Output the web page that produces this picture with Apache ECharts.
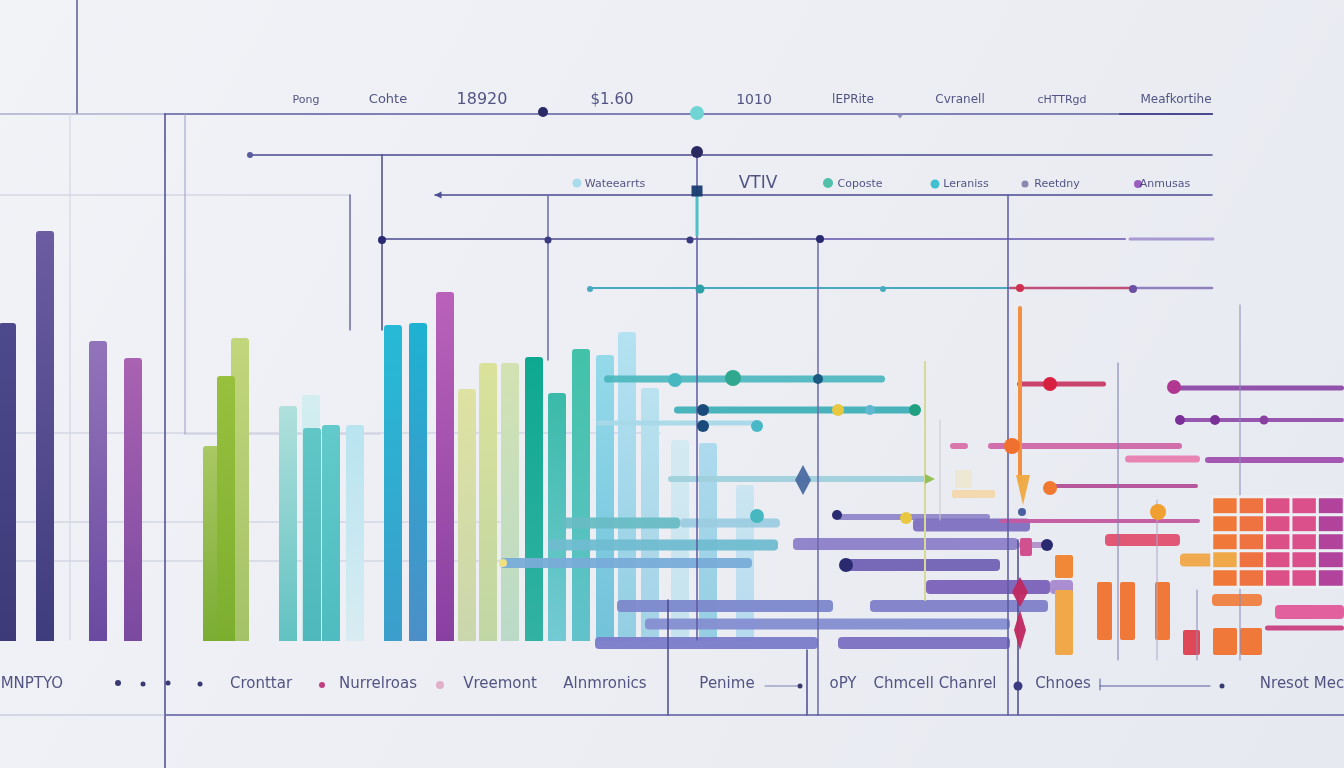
<!DOCTYPE html>
<html><head><meta charset="utf-8">
<script src="https://cdn.jsdelivr.net/npm/echarts@6/dist/echarts.min.js"></script>
<style>html,body{margin:0;padding:0;width:1344px;height:768px;overflow:hidden;background:#eceff4}#c{width:1344px;height:768px}</style>
</head><body><div id="c"></div><script>
// ---------- DATA ----------
// vertical bars: centre position and height above the baseline
const barX = [7,45,98,133,212,240,226,288,311,312,331,355,393,418,445,467,488,510,534,557,581,605,627,650,680,708,745];
const barH = [318,410,300,283,195,303,265,235,246,213,216,216,316,318,349,252,278,278,284,248,292,286,309,253,201,198,156];
// thin segments [x0,y0,x1,y1]
const segBack = [[0,433,660,433],[0,522,500,522],[0,561,500,561],[0,195,350,195],[185,434,380,434]];
const segs = [
 [0,114,165,114],[165,114,1212,114],[1120,114,1212,114],
 [250,155,1212,155],[435,195,1212,195],
 [382,239,820,239],[820,239,1125,239],[1130,239,1213,239],
 [590,288,1010,288],[1010,288,1135,288],[1135,288,1212,288],
 [77,0,77,113],[165,114,165,768],[70,114,70,640],[185,114,185,434],
 [382,155,382,330],[350,195,350,330],[548,195,548,360],[697,150,697,640],
 [818,239,818,715],[1008,195,1008,715],[1018,540,1018,715],[668,600,668,715],
 [807,650,807,715],[1240,305,1240,660],[1118,363,1118,660],[925,362,925,600],
 [940,420,940,520],[1197,590,1197,660],[1157,500,1157,660],
 [0,715,165,715],[165,715,1344,715],[1100,686,1210,686],[1100,679,1100,690],[765,686,800,686],
 [1020,308,1020,480],[697,190,697,235]
];
// horizontal bars [x0,x1,y]
const hBars = [
 [604,885,379],[674,918,410],[596,760,423],[668,930,479],[562,680,523],[680,780,523],
 [548,778,545],[500,752,563],[836,990,517],[913,1030,525],[793,1018,544],[1018,1045,545],
 [843,1000,565],[926,1050,587],[1050,1073,587],[617,833,606],[870,1048,606],[645,1010,624],
 [595,818,643],[838,1010,643],
 [1017,1106,384],[1175,1344,388],[1180,1344,420],[950,968,446],[988,1182,446],[1125,1200,459],
 [1205,1344,460],[1050,1198,486],[1000,1200,521],[1105,1180,540],[1180,1245,560],[1212,1262,600],
 [1275,1344,612],[1265,1344,628]
];
// blocks [x0,y0,x1,y1]
const blocks = [[1055,555,1073,578],[1055,590,1073,655],[1097,582,1112,640],[1120,582,1135,640],
 [1155,582,1170,640],[1183,630,1200,655],[1213,628,1237,655],[1240,628,1262,655],[1020,538,1032,556],
 [952,490,995,498],[955,470,972,488]];
// dots [x,y]
const dots = [
 [543,112],[697,113],[697,152],[250,155],[382,240],[548,240],[690,240],[820,239],
 [590,289],[700,289],[883,289],[1020,288],[1133,289],
 [608,379],[675,380],[733,378],[818,379],[703,410],[703,426],[757,426],[838,410],[870,410],[915,410],
 [757,516],[837,515],[906,518],[846,565],[1047,545],
 [1050,384],[1174,387],[1180,420],[1215,420],[1264,420],[1012,446],[1050,488],[1158,512],[1022,512],[503,563],
 [118,683],[143,684],[168,683],[200,684],[322,685],[440,685],[1018,686],[800,686],[1222,686],
 [577,183],[828,183],[935,184],[1025,184],[1138,184]
];
// special markers [x,y]
const marks = [[803,480],[697,191],[1020,592],[1020,630],[1023,490],[930,479],[438,195],[900,116]];
// heatmap grid: rows x columns
const heatCols = ['c1','c2','c3','c4','c5'];
const heatRows = ['r1','r2','r3','r4','r5'];
const heatValues = [
 [25,28,62,66,95],
 [25,28,62,66,95],
 [25,28,62,66,95],
 [0,28,62,66,95],
 [25,28,62,66,95]
];
// texts
const topLabels = ['Pong','Cohte','18920','$1.60','1010','lEPRite','Cvranell','cHTTRgd','Meafkortihe'];
const topLabelX = [306,388,482,612,754,853,960,1062,1176];
const midLabels = ['Wateearrts','VTIV','Coposte','Leraniss','Reetdny','Anmusas'];
const midLabelX = [615,758,860,966,1057,1165];
const botLabels = ['OMNPTYO','Cronttar','Nurrelroas','Vreemont','Alnmronics','Penime','oPY','Chmcell Chanrel','Chnoes','Nresot Mec'];
const botLabelX = [26,261,378,500,605,727,843,935,1063,1302];

// ---------- STYLES ----------
const topLabelSize = [11,13,16,15,14,12,12,11,12];
const midLabelSize = [11,17,11,11,11,11];
const botLabelSize = [15,15,15,15,15,15,15,15,15,15];
const barColors = [
 ['#4c4a8c','#3c3a78'],['#6c5ca2','#3e3c7c'],['#9274ba','#6a4aa0'],['#aa62b2','#7a4aa0'],
 ['#aac864','#7aac34'],['#c2d67c','#a4c266'],['#98c03e','#7cae2e'],['#b0e0dc','#62c2c2'],
 ['#d4eef0','#c0e6ea'],['#62c6c6','#4eb8bc'],['#62caca','#4ebcc0'],['#b8e4f0','#d8ecf2'],
 ['#26bad6','#3c9ecc'],['#1eb2d2','#4c8ec8'],['#ba62ba','#8840a0'],['#dee2a2','#cad6ac'],
 ['#dae29a','#c0d6a4'],['#d2e2b2','#badac8'],['#0ea890','#32b2a2'],['#3abaa8','#74cad4'],
 ['#42c2a8','#62c2cc'],['#94daea','#72c2da'],['#b4e2f2','#94cee2'],['#bae2f0','#a4d2e6'],
 ['#d4eaf2','#c4e2ee'],['#aedaee','#94cee2'],['#cce6f2','#b4daee']
];
const segBackStyle = ['#c6cadc',1];
const segStyle = [
 ['#8a8cb8',1.2],['#5c5ca0',1.5],['#4a4a90',2.2],
 ['#4a4a90',1.5],['#4a4a90',1.5],
 ['#4a4a90',1.5],['#8478c0',2],['#a898d4',3],
 ['#48aac0',2],['#c05078',2.5],['#9080c0',2.5],
 ['#5a5a9a',1.5],['#4a4a90',1.5],['#cdd0e2',1],['#9a9cc4',1],
 ['#4a4a90',1.5],['#6a6aa8',1.5],['#6a6aa8',1.5],['#5a5aa0',1.5],
 ['#6a6aa8',1.5],['#5a5aa0',1.5],['#4a4a90',1.5],['#4a4a90',1.5],
 ['#4a4a90',1.5],['#8a88b8',1],['#7a78b0',1],['#d8d898',2],
 ['#c8c8c8',1],['#8a88b8',1],['#b0a8c8',1],
 ['#b8bcd4',1],['#5a5aa0',1.5],['#5a5aa0',1],['#5a5aa0',1],['#8080b0',1],
 ['#f09040',4],['#50c0c8',3]
];
const hBarStyle = [
 ['#50b8c0',7],['#40b0b8',7],['#a8d8e8',5],['#a0d0dc',6],['#68bcc4',11],['#9ccce0',9],
 ['#70bcd0',11],['#78acd8',10],['#9088c8',6],['#8070c0',13],['#8c80c8',12],['#b090c8',6],
 ['#7262b4',12],['#7a62b8',14],['#a888d0',14],['#7c88cc',12],['#8080c8',12],['#848ed0',11],
 ['#7a7cc8',12],['#7a70c0',12],
 ['#c83a64',5],['#8c4aa8',5],['#9050aa',4],['#d870a8',6],['#d068a8',6],['#e880b0',7],
 ['#a050b0',6],['#b45098',4],['#c458a0',4],['#e05070',12],['#f0a848',13],['#f08040',12],
 ['#e05898',14],['#c84080',5]
];
const blockStyle = ['#f08838','#f0a848','#f07838','#f07838','#f07838','#e04858','#f07838','#f07838','#d05090','#f4d8b0','#ece8d4'];
const dotStyle = [
 ['#2a2a66',10],['#70d4d4',14],['#2a2a60',12],['#5a5aa0',6],['#2a2a70',8],['#3a3a80',7],['#3a3a80',7],['#2a2a70',8],
 ['#48aac0',6],['#30a0a8',9],['#48aac0',6],['#d03050',8],['#6a50a0',8],
 ['#50b8c0',7],['#48b8c0',14],['#30a890',16],['#1a5a80',10],['#1a4a7a',12],['#1a4a7a',12],['#48b8c8',12],['#e8c840',12],['#60b8d0',10],['#20a080',12],
 ['#48b8c0',14],['#2a2a70',10],['#e8c840',12],['#2a2a70',14],['#2a2a70',12],
 ['#d82040',14],['#b03890',14],['#7a3098',10],['#7a3098',10],['#8a40a0',9],['#f07030',16],['#f07830',14],['#f0a030',16],['#4a60a0',8],['#f0e080',8],
 ['#3a3a70',6],['#3a3a70',5],['#3a3a70',5],['#3a3a70',5],['#c04080',6],['#e0b0c8',8],['#3a3a80',9],['#3a3a70',5],['#3a3a70',5],
 ['#a8dcec',9],['#50c0a8',10],['#40c0d0',9],['#8888b0',7],['#9a60c0',8]
];
const markStyle = [
 ['diamond','#4a6aa0',[16,30],0],['rect','#1a3a70',[11,11],0],['diamond','#c02860',[16,30],0],['diamond','#c02860',[12,40],0],
 ['triangle','#f0a840',[14,30],180],['triangle','#90c050',[10,10],-90],['triangle','#4a4a90',[7,7],90],['triangle','#8a8cb8',[8,5],180]
];
const textColor = '#2c2c66';
const FONT = 'DejaVu Sans';

// ---------- CHART ----------
const chart = echarts.init(document.getElementById('c'));
function segSeries(data, styleFn, z){
  return {type:'custom', xAxisIndex:0, yAxisIndex:0, silent:true, z:z, data:data,
    renderItem:function(params, api){
      const s = styleFn(params.dataIndex);
      const p0 = api.coord([api.value(0), api.value(1)]);
      const p1 = api.coord([api.value(2), api.value(3)]);
      return {type:'line', shape:{x1:p0[0],y1:p0[1],x2:p1[0],y2:p1[1]}, style:{stroke:s[0], lineWidth:s[1], lineCap:'round'}};
    }};
}
function textSeries(labels, xs, y, sizes, z){
  return {type:'scatter', xAxisIndex:0, yAxisIndex:0, symbolSize:0, silent:true, z:z,
    data: labels.map((t,i)=>({name:t, value:[xs[i], y], label:{fontSize:sizes[i]}})),
    label:{show:true, position:[0,0], align:'center', verticalAlign:'middle', formatter:'{b}',
      color:textColor, fontFamily:FONT}};
}
const series = [];
series.push(segSeries(segBack, ()=>segBackStyle, 1));
series.push({type:'bar', xAxisIndex:1, yAxisIndex:1, barWidth:18, z:2, silent:true,
  data: barX.map((x,i)=>({value:[x, barH[i]], itemStyle:{borderRadius:[3,3,0,0],
    color:new echarts.graphic.LinearGradient(0,0,0,1,[{offset:0,color:barColors[i][0]},{offset:1,color:barColors[i][1]}])}}))});
series.push({type:'custom', xAxisIndex:0, yAxisIndex:0, silent:true, z:3, data:hBars,
  renderItem:function(params, api){
    const s = hBarStyle[params.dataIndex];
    const p0 = api.coord([api.value(0), api.value(2)]);
    const p1 = api.coord([api.value(1), api.value(2)]);
    return {type:'rect', shape:{x:p0[0], y:p0[1]-s[1]/2, width:p1[0]-p0[0], height:s[1], r:Math.min(4,s[1]/2)}, style:{fill:s[0], opacity:0.95}};
  }});
series.push({type:'custom', xAxisIndex:0, yAxisIndex:0, silent:true, z:3, data:blocks,
  renderItem:function(params, api){
    const p0 = api.coord([api.value(0), api.value(1)]);
    const p1 = api.coord([api.value(2), api.value(3)]);
    return {type:'rect', shape:{x:p0[0], y:p0[1], width:p1[0]-p0[0], height:p1[1]-p0[1], r:2}, style:{fill:blockStyle[params.dataIndex]}};
  }});
series.push(segSeries(segs, i=>segStyle[i], 4));
series.push({type:'scatter', xAxisIndex:0, yAxisIndex:0, silent:true, z:5,
  data: dots.map((d,i)=>({value:d, symbolSize:dotStyle[i][1], itemStyle:{color:dotStyle[i][0], opacity:1}}))});
series.push({type:'scatter', xAxisIndex:0, yAxisIndex:0, silent:true, z:5,
  data: marks.map((d,i)=>({value:d, symbol:markStyle[i][0], symbolSize:markStyle[i][2], symbolRotate:markStyle[i][3], itemStyle:{color:markStyle[i][1], opacity:0.95}}))});
series.push({type:'heatmap', xAxisIndex:2, yAxisIndex:2, silent:true, z:4,
  data: heatValues.flatMap((row,r)=>row.map((v,c)=>[c,r,v])),
  itemStyle:{borderColor:'#eceff4', borderWidth:3, borderRadius:2}});
const heatIndex = series.length-1;
series.push(textSeries(topLabels, topLabelX, 100, topLabelSize, 6));
series.push(textSeries(midLabels, midLabelX, 184, midLabelSize, 6));
series.push(textSeries(botLabels, botLabelX, 684, botLabelSize, 6));

const option = {
  animation:false,
  backgroundColor: new echarts.graphic.LinearGradient(0,0,1,1,[{offset:0,color:'#f2f3f7'},{offset:1,color:'#e6e9f0'}]),
  grid:[
    {left:0, top:0, width:1344, height:768},
    {left:0, top:0, width:1344, height:641},
    {left:1212, top:497, width:145, height:90}
  ],
  xAxis:[
    {type:'value', gridIndex:0, min:0, max:1344, show:false},
    {type:'value', gridIndex:1, min:0, max:1344, show:false},
    {type:'category', gridIndex:2, data:heatCols, show:false}
  ],
  yAxis:[
    {type:'value', gridIndex:0, min:0, max:768, inverse:true, show:false},
    {type:'value', gridIndex:1, min:0, max:641, show:false},
    {type:'category', gridIndex:2, data:heatRows, inverse:true, show:false}
  ],
  visualMap:{show:false, seriesIndex:heatIndex, min:0, max:100, dimension:2,
    inRange:{color:['#f0a848','#f07838','#e05080','#d85090','#a840a0']}},
  series: series
};
chart.setOption(option);
</script></body></html>
